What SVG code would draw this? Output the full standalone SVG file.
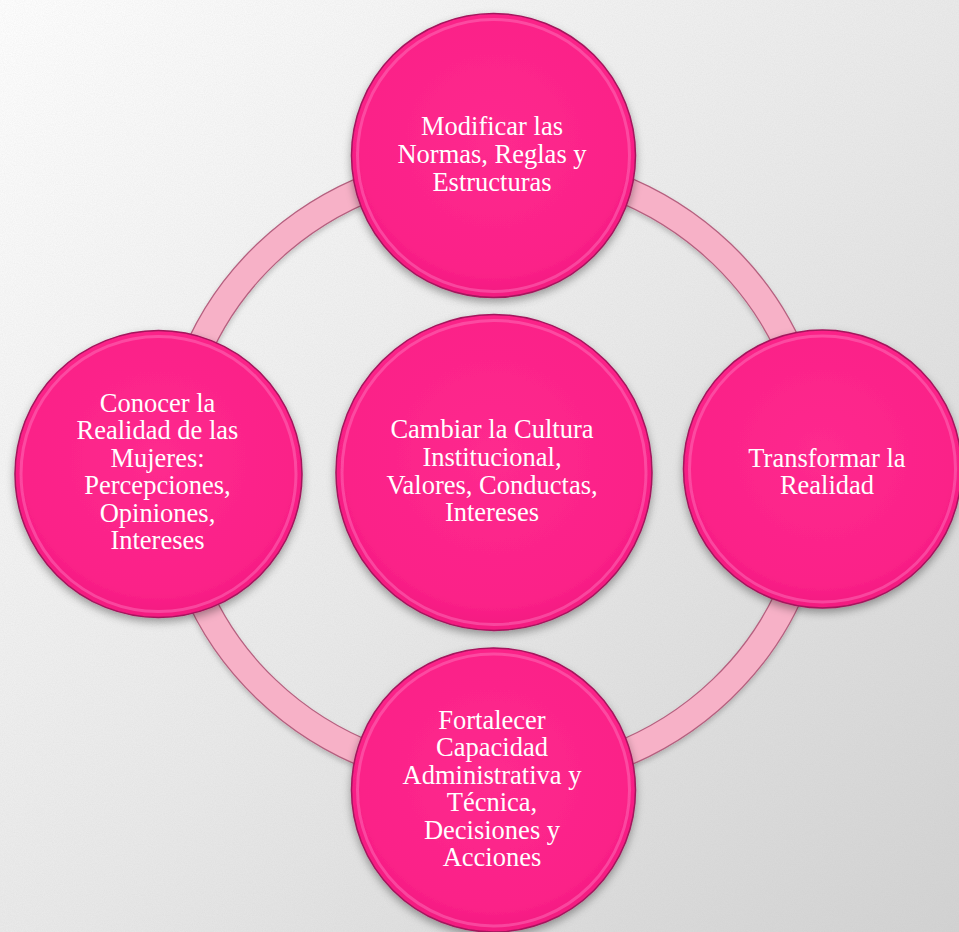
<svg xmlns="http://www.w3.org/2000/svg" width="959" height="932" viewBox="0 0 959 932">
  <defs>
    <linearGradient id="bg" x1="0" y1="0" x2="1" y2="1">
      <stop offset="0" stop-color="#fdfdfd"/>
      <stop offset="0.5" stop-color="#e9e9e9"/>
      <stop offset="1" stop-color="#d2d2d2"/>
    </linearGradient>
    <radialGradient id="pink" cx="0.5" cy="0.45" r="0.55">
      <stop offset="0" stop-color="#fe2a8e"/>
      <stop offset="0.85" stop-color="#fb2188"/>
      <stop offset="1" stop-color="#f21a80"/>
    </radialGradient>
    <filter id="noise" x="0" y="0" width="100%" height="100%">
      <feTurbulence type="fractalNoise" baseFrequency="0.9" numOctaves="2" seed="3"/>
      <feColorMatrix type="matrix" values="0 0 0 0 0.5  0 0 0 0 0.5  0 0 0 0 0.5  0 0 0 0.9 -0.25"/>
    </filter>
    <filter id="shadow" x="-20%" y="-20%" width="140%" height="140%">
      <feDropShadow dx="0" dy="4" stdDeviation="4" flood-color="#000" flood-opacity="0.35"/>
    </filter>
    <filter id="rshadow" x="-10%" y="-10%" width="120%" height="120%">
      <feDropShadow dx="0" dy="3" stdDeviation="2.5" flood-color="#000" flood-opacity="0.2"/>
    </filter>
  </defs>
  <style>
    .disc { fill: url(#pink); stroke: #a3155c; stroke-width: 1.5; filter: url(#shadow); }
    .rim { fill: none; stroke: #ff86c8; stroke-width: 3; opacity: 0.4; }
    .lbl { font-family: "Liberation Serif", "Times New Roman", serif; font-size: 26.5px; fill: #ffffff; text-anchor: middle; }
  </style>

  <rect width="959" height="932" fill="url(#bg)"/>
  <rect width="959" height="932" filter="url(#noise)" opacity="0.22"/>

  <g id="connectors">
    <g filter="url(#rshadow)">
      <ellipse cx="494" cy="471.5" rx="322" ry="308" fill="none" stroke="#b5607f" stroke-width="28"/>
      <ellipse cx="494" cy="471.5" rx="322" ry="308" fill="none" stroke="#f7b1c7" stroke-width="25.5"/>
    </g>
  </g>

  <g id="node-top">
    <circle class="disc" cx="493.5" cy="155.5" r="142"/>
    <circle class="rim" cx="493.5" cy="155.5" r="136"/>
    <text class="lbl" x="492" y="135">Modificar las</text>
    <text class="lbl" x="492" y="163">Normas, Reglas y</text>
    <text class="lbl" x="492" y="191">Estructuras</text>
  </g>

  <g id="node-left">
    <circle class="disc" cx="158.5" cy="474" r="143.5"/>
    <circle class="rim" cx="158.5" cy="474" r="137.5"/>
    <text class="lbl" x="157.5" y="411.5">Conocer la</text>
    <text class="lbl" x="157.5" y="439">Realidad de las</text>
    <text class="lbl" x="157.5" y="466.5">Mujeres:</text>
    <text class="lbl" x="157.5" y="494">Percepciones,</text>
    <text class="lbl" x="157.5" y="521.5">Opiniones,</text>
    <text class="lbl" x="157.5" y="549">Intereses</text>
  </g>

  <g id="node-right">
    <circle class="disc" cx="822.5" cy="469" r="139"/>
    <circle class="rim" cx="822.5" cy="469" r="133"/>
    <text class="lbl" x="827" y="466.5">Transformar la</text>
    <text class="lbl" x="827" y="494">Realidad</text>
  </g>

  <g id="node-bottom">
    <circle class="disc" cx="493.5" cy="790" r="142"/>
    <circle class="rim" cx="493.5" cy="790" r="136"/>
    <text class="lbl" x="492" y="728.5">Fortalecer</text>
    <text class="lbl" x="492" y="756">Capacidad</text>
    <text class="lbl" x="492" y="783.5">Administrativa y</text>
    <text class="lbl" x="492" y="811">Técnica,</text>
    <text class="lbl" x="492" y="838.5">Decisiones y</text>
    <text class="lbl" x="492" y="866">Acciones</text>
  </g>

  <g id="node-center">
    <circle class="disc" cx="494" cy="472.5" r="158"/>
    <circle class="rim" cx="494" cy="472.5" r="152"/>
    <text class="lbl" x="492" y="438">Cambiar la Cultura</text>
    <text class="lbl" x="492" y="466">Institucional,</text>
    <text class="lbl" x="492" y="493.5">Valores, Conductas,</text>
    <text class="lbl" x="492" y="521">Intereses</text>
  </g>
</svg>
